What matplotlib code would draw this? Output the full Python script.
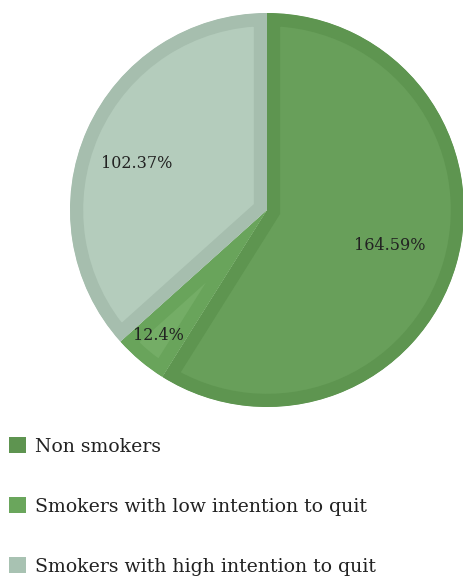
import matplotlib
matplotlib.use("Agg")
import matplotlib.pyplot as plt
from matplotlib.patches import Patch

categories = ["Non smokers", "Smokers with low intention to quit", "Smokers with high intention to quit"]
values = [164.59, 12.4, 102.37]
value_labels = ["164.59%", "12.4%", "102.37%"]
inner_colors = ["#689f5a", "#74ad66", "#b4ccbc"]
border_colors = ["#5e9550", "#69a45b", "#a6beae"]
legend_colors = ["#5e9450", "#6aa65c", "#a8c2b2"]

W, H = 464, 576
fig = plt.figure(figsize=(W / 100, H / 100), dpi=100)
cx, cy, R = 267, 576 - 210, 197
ax = fig.add_axes([(cx - R) / W, (cy - R) / H, 2 * R / W, 2 * R / H])
wedges, _ = ax.pie(values, colors=inner_colors, startangle=90, counterclock=False,
                   radius=1.0, wedgeprops=dict(linewidth=0))
for w, bc in zip(wedges, border_colors):
    w.set_edgecolor(bc)
    w.set_linewidth(19)
    w.set_joinstyle("miter")
    w.set_clip_on(True)
    w.set_clip_path(w)
ax.set_xlim(-1, 1)
ax.set_ylim(-1, 1)
ax.set_aspect("equal")
ax.axis("off")

font = "DejaVu Serif"
label_pos = [(390, 246), (158, 335), (137, 163)]
for (px, py), lab in zip(label_pos, value_labels):
    fig.text(px / W, 1 - py / H, lab, ha="center", va="center",
             fontsize=11.5, family=font, color="#222222")

handles = [Patch(facecolor=c, edgecolor="none") for c in legend_colors]
fig.legend(handles, categories, loc="upper left", bbox_to_anchor=(0.0, 1 - 428 / H),
           frameon=False, prop=dict(family=font, size=13.6), labelcolor="#222222",
           handlelength=0.9, handleheight=0.9, handletextpad=0.45,
           labelspacing=2.2, borderaxespad=0, borderpad=0.5)

fig.savefig("out.png", dpi=100)
